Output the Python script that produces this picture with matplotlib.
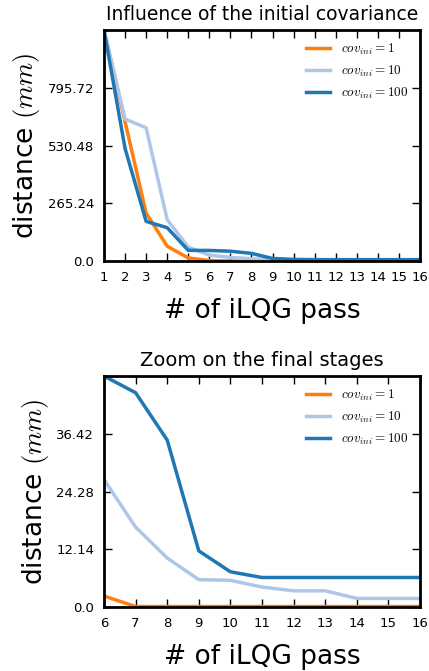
import numpy as np
import matplotlib
matplotlib.use("Agg")
import matplotlib.pyplot as plt

plt.rcParams['mathtext.fontset'] = 'cm'

passes = list(range(1, 17))
cov1 = [1060.96, 640, 220, 68, 14, 2.3, 0.1, 0.1, 0.1, 0.1, 0.1, 0.1, 0.1, 0.1, 0.1, 0.1]
cov10 = [1060.96, 652, 612, 190, 64, 26.8, 16.8, 10.3, 5.75, 5.6, 4.2, 3.4, 3.4, 1.8, 1.8, 1.8]
cov100 = [1060.96, 517, 182, 153, 49, 48.56, 45.05, 35.1, 11.8, 7.4, 6.2, 6.2, 6.2, 6.2, 6.2, 6.2]
labels = [r'$cov_{ini}=1$', r'$cov_{ini}=10$', r'$cov_{ini}=100$']
colors = ['#ff7f0e', '#aec7e8', '#1f77b4']
titles = ['Influence of the initial covariance', 'Zoom on the final stages']

fig = plt.figure(figsize=(4.29, 6.71), dpi=100)
ax1 = fig.add_axes([0.2424, 0.611, 0.7366, 0.3443])
ax2 = fig.add_axes([0.2424, 0.0954, 0.7366, 0.3442])

series = [cov1, cov10, cov100]

def style(ax, start, ymax, title, tsize):
    x = passes[start - 1:]
    for s, c, l in zip(series, colors, labels):
        ax.plot(x, s[start - 1:], color=c, lw=2.5, label=l)
    ax.set_xlim(start, 16)
    ax.set_ylim(0, ymax)
    ax.set_xticks(x)
    yt = [ymax * i / 4 for i in range(4)]
    ax.set_yticks(yt)
    ax.set_yticklabels(['%g' % round(v, 2) if v else '0.0' for v in yt])
    ax.tick_params(direction='in', top=True, right=True, length=6, width=1, labelsize=9.5, pad=7)
    for sp in ax.spines.values():
        sp.set_linewidth(2)
    ax.set_title(title, fontsize=tsize, pad=7)
    ax.set_xlabel('# of iLQG pass', fontsize=19, labelpad=10)
    ax.set_ylabel(r'distance $(mm)$', fontsize=19)
    ax.legend(loc='upper right', frameon=False, fontsize=9.5, handlelength=1.8)

style(ax1, 1, cov1[0], titles[0], 13.5)
style(ax2, 6, cov100[5], titles[1], 14)

fig.savefig('out.png', dpi=100)
